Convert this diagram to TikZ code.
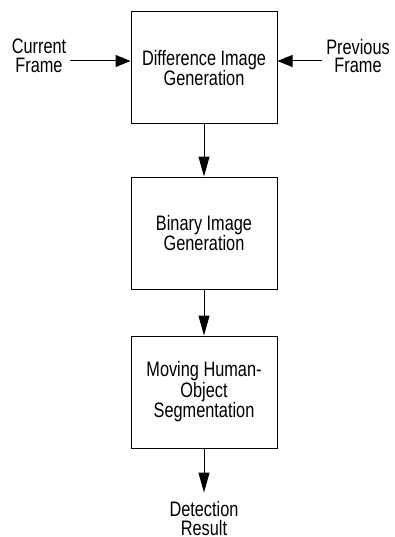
\documentclass[tikz,border=0pt]{standalone}
\usepackage{fontspec}
\setmainfont{Liberation Sans}[FakeStretch=0.78]
\usetikzlibrary{positioning,arrows.meta}

\begin{document}
\begin{tikzpicture}[x=1bp,y=-1bp,
		every node/.style={font=\fontsize{21}{19}\selectfont},
		block/.style={
			draw,line width=1bp,minimum width=146bp,minimum height=112bp,align=center,inner sep=0pt,
		},
		lbl/.style={
			align=center,inner sep=4bp,
		},
		flow/.style={line width=1bp,-{Triangle[length=20bp,width=11bp]}},
		feed/.style={line width=1bp,-{Triangle[length=15bp,width=12bp]}},
	]
	\useasboundingbox (0,0) rectangle (394,537);

	% the three processing stages
	\node [block] (diff) at (204,68) {Difference Image\\Generation};
	\node [block,below=52bp of diff] (bin) {Binary Image\\Generation};
	\node [block,below=46bp of bin] (seg) {Moving Human-\\Object\\Segmentation};

	% the two frames fed in
	\node [lbl] (cur) at (39,56) {Current\\Frame};
	\node [lbl] (prev) at (358,56) {Previous\\Frame};
	\coordinate (inl) at ([yshift=7bp]diff.west);
	\coordinate (inr) at ([yshift=7bp]diff.east);
	\draw [feed] (cur.east |- inl) -- (inl);
	\draw [feed] (prev.west |- inr) -- (inr);

	% result
	\node [lbl,inner ysep=9bp,below=44bp of seg] (res) {Detection\\Result};

	\draw [flow] (diff) -- (bin);
	\draw [flow] (bin) -- (seg);
	\draw [flow] (seg) -- (res);

\end{tikzpicture}
\end{document}
